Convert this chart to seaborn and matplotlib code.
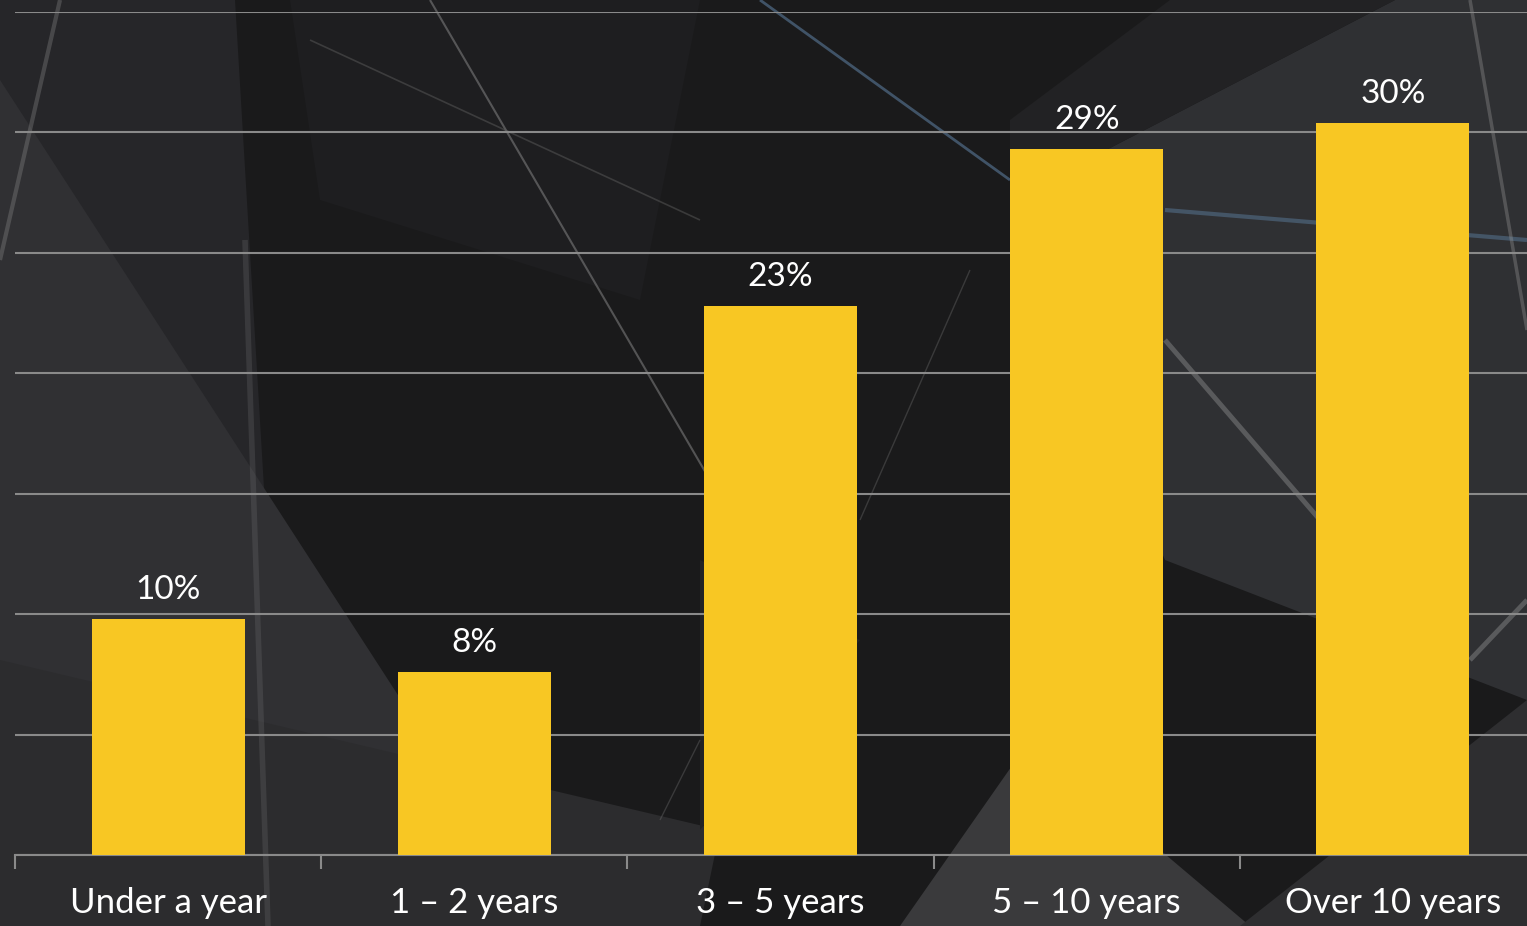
import numpy as np
import pandas as pd
import matplotlib
matplotlib.use("Agg")
import matplotlib.pyplot as plt
from matplotlib.patches import Polygon
import seaborn as sns

# data
categories = ["Under a year", "1 \u2013 2 years", "3 \u2013 5 years", "5 \u2013 10 years", "Over 10 years"]
shares = [9.8, 7.6, 22.8, 29.3, 30.4]
share_labels = ["10%", "8%", "23%", "29%", "30%"]
y_ticks = [0, 5, 10, 15, 20, 25, 30, 35]

BAR = "#F8C723"
GRID = "#8a8a8a"
W, H = 1527, 926


def draw_background(fig):
    # decorative dark backdrop with soft geometric shapes
    bg = fig.add_axes([0, 0, 1, 1], zorder=0)
    bg.set_xlim(0, W)
    bg.set_ylim(H, 0)
    bg.axis("off")
    bg.add_patch(Polygon([(0, 0), (W, 0), (W, H), (0, H)], color="#1a1a1b"))
    shapes = [
        ([(0, 0), (235, 0), (290, H), (0, H)], "#262629"),
        ([(0, 80), (440, 760), (0, 760)], "#303033"),
        ([(0, 660), (720, 830), (700, H), (0, H)], "#2c2c2e"),
        ([(290, 0), (700, 0), (640, 300), (320, 200)], "#1e1e20"),
        ([(1010, 200), (1395, 0), (W, 0), (W, 700), (1165, 560)], "#2f3033"),
        ([(1170, 0), (1395, 0), (1010, 200), (1010, 120)], "#222224"),
        ([(900, H), (1030, 740), (1250, H)], "#3a3a3c"),
        ([(1240, H), (W, 700), (W, H)], "#2e2e30"),
        ([(700, 560), (860, 640), (700, 830)], "#232325"),
    ]
    for pts, c in shapes:
        bg.add_patch(Polygon(pts, color=c, lw=0))
    streaks = [
        ([60, 0], [0, 260], "#8a8a8a", 3.0, 0.35),
        ([430, 710], [0, 480], "#9a9a9a", 1.5, 0.45),
        ([245, 268], [240, H], "#8a8a8a", 4.0, 0.2),
        ([760, 1010], [0, 180], "#5a7a9a", 2.0, 0.6),
        ([1165, 1527], [210, 240], "#5a7a9a", 3.0, 0.5),
        ([1165, 1320], [340, 520], "#9a9a9a", 3.5, 0.4),
        ([1470, 1527], [0, 330], "#9a9a9a", 2.5, 0.35),
        ([310, 700], [40, 220], "#5a5a5a", 1.2, 0.5),
        ([860, 970], [520, 270], "#6a6a6a", 1.0, 0.4),
        ([660, 700], [820, 740], "#6a6a6a", 1.0, 0.4),
        ([1470, 1527], [660, 600], "#9a9a9a", 3.5, 0.4),
    ]
    for xs, ys, c, lw, a in streaks:
        bg.plot(xs, ys, color=c, lw=lw, alpha=a, solid_capstyle="butt")


def main():
    sns.set_theme(style="white")
    plt.rcParams["font.family"] = ["Lato", "DejaVu Sans"]

    fig = plt.figure(figsize=(W / 100, H / 100), dpi=100)
    fig.patch.set_facecolor("#1a1a1b")
    draw_background(fig)

    df = pd.DataFrame({"tenure": categories, "share": shares})
    ax = fig.add_axes([15 / W, 71 / H, 1531 / W, 843 / H], zorder=1)
    ax.set_facecolor("none")
    sns.barplot(data=df, x="tenure", y="share", color=BAR, width=0.5,
                saturation=1, linewidth=0, edgecolor="none", ax=ax, zorder=3)

    ax.bar_label(ax.containers[0], labels=share_labels, padding=10,
                 color="white", fontsize=24)

    ax.set_ylim(0, 35)
    ax.set_xlim(-0.5, len(categories) - 0.5)
    ax.set_yticks(y_ticks)
    ax.yaxis.grid(True, color=GRID, lw=1.5)
    ax.set_axisbelow(True)
    ax.tick_params(axis="y", left=False, labelleft=False)

    ax.set_xticks(np.arange(len(categories)))
    ax.set_xticklabels(categories, color="white", fontsize=25)
    ax.set_xticks(np.arange(len(categories) + 1) - 0.5, minor=True)
    ax.tick_params(axis="x", which="major", length=0, pad=23)
    ax.tick_params(axis="x", which="minor", bottom=True, length=10,
                   width=1.5, color=GRID, direction="out")
    ax.set_xlabel("")
    ax.set_ylabel("")

    for side in ["top", "left", "right"]:
        ax.spines[side].set_visible(False)
    ax.spines["bottom"].set_color(GRID)
    ax.spines["bottom"].set_linewidth(1.5)

    fig.savefig("out.png", dpi=100, facecolor=fig.get_facecolor())


if __name__ == "__main__":
    main()
